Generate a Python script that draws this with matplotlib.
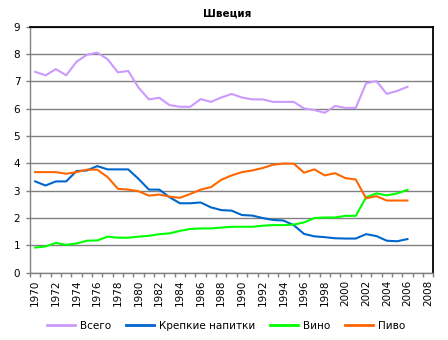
import matplotlib
matplotlib.use("Agg")
import matplotlib.pyplot as plt
from matplotlib.ticker import MultipleLocator, FixedLocator
from matplotlib.lines import Line2D

plt.rcParams['font.family'] = ['DejaVu Sans']

years = list(range(1970, 2007))

total = [7.35, 7.22, 7.45, 7.22, 7.72, 7.97, 8.05, 7.81, 7.33, 7.38,
         6.77, 6.34, 6.40, 6.13, 6.07, 6.07, 6.35, 6.25, 6.41, 6.54,
         6.41, 6.34, 6.34, 6.25, 6.25, 6.25, 6.01, 5.95, 5.85, 6.10,
         6.03, 6.03, 6.93, 7.01, 6.54, 6.65, 6.80]

spirits = [3.34, 3.19, 3.34, 3.34, 3.72, 3.74, 3.90, 3.78, 3.78, 3.78,
           3.43, 3.04, 3.04, 2.76, 2.54, 2.54, 2.57, 2.39, 2.29, 2.27,
           2.11, 2.09, 2.00, 1.93, 1.91, 1.74, 1.42, 1.33, 1.30, 1.26,
           1.25, 1.25, 1.41, 1.34, 1.17, 1.15, 1.23]

wine = [0.92, 0.96, 1.09, 1.02, 1.07, 1.17, 1.18, 1.32, 1.28, 1.28,
        1.32, 1.35, 1.41, 1.44, 1.53, 1.60, 1.62, 1.62, 1.65, 1.68,
        1.68, 1.68, 1.72, 1.74, 1.74, 1.76, 1.84, 2.00, 2.02, 2.02,
        2.08, 2.08, 2.76, 2.90, 2.83, 2.90, 3.03]

beer = [3.68, 3.68, 3.68, 3.62, 3.68, 3.77, 3.77, 3.50, 3.07, 3.04,
        2.98, 2.82, 2.86, 2.78, 2.74, 2.88, 3.04, 3.13, 3.40, 3.56,
        3.68, 3.74, 3.83, 3.95, 3.99, 3.99, 3.66, 3.78, 3.56, 3.64,
        3.46, 3.41, 2.72, 2.80, 2.64, 2.64, 2.64]

series_names = ["Всего", "Крепкие напитки", "Вино", "Пиво"]
series_colors = ["#CC99FF", "#0066CC", "#00FF00", "#FF6600"]
title = "Швеция"

fig = plt.figure(figsize=(4.48, 3.40), dpi=100)
ax = fig.add_axes([30 / 448, 1 - 272.7 / 340, (433.3 - 30) / 448, (272.7 - 26.7) / 340])

for vals, name, color in zip([total, spirits, wine, beer], series_names, series_colors):
    ax.plot(years, vals, color=color, lw=1.5, label=name, solid_joinstyle='round')

ax.set_xlim(1969.5, 2008.5)
ax.set_ylim(0, 9)

ax.yaxis.set_major_locator(MultipleLocator(1))
ax.grid(axis='y', color='#808080', lw=1.0)
ax.set_axisbelow(True)

# category boundaries carry ticks; labels sit on every second year
ax.xaxis.set_minor_locator(FixedLocator([y + 0.5 for y in range(1969, 2009)]))
ax.xaxis.set_major_locator(FixedLocator(list(range(1970, 2009, 2))))
ax.tick_params(axis='x', which='major', length=0, labelsize=7.5, labelrotation=90, pad=5)
ax.tick_params(axis='x', which='minor', length=3, color='#808080', width=1)
ax.tick_params(axis='y', length=3, color='#808080', width=1, labelsize=7.5, pad=4)

for s in ['left', 'bottom']:
    ax.spines[s].set_color('#808080')
    ax.spines[s].set_linewidth(1)
for s in ['top', 'right']:
    ax.spines[s].set_color('black')
    ax.spines[s].set_linewidth(1.3)

fig.text(0.507, 1 - 14 / 340, title, ha='center', va='center', fontsize=7.5, fontweight='bold')

handles = [Line2D([], [], color=c, lw=2) for c in series_colors]
fig.legend(handles, series_names, loc='center', bbox_to_anchor=(0.505, 1 - 326 / 340),
           ncol=4, frameon=False, fontsize=7.5, handlelength=2.7, handletextpad=0.5,
           columnspacing=1.4)

fig.savefig("out.png", dpi=100)
